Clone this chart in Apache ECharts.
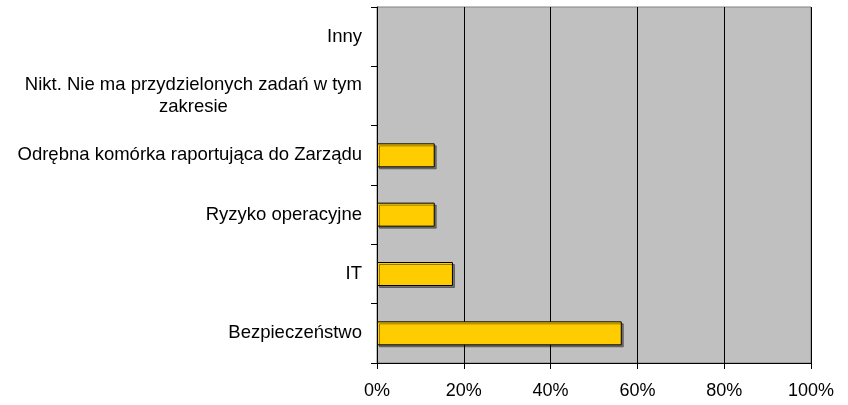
<!DOCTYPE html>
<html>
<head>
<meta charset="utf-8">
<script src="https://cdn.jsdelivr.net/npm/echarts@6/dist/echarts.min.js"></script>
<style>
html,body{margin:0;padding:0;background:#fff;}
#chart{width:848px;height:405px;}
</style>
</head>
<body>
<div id="chart"></div>
<script>
// kategorie od dołu do góry
var categories = ['Bezpieczeństwo', 'IT', 'Ryzyko operacyjne', 'Odrębna komórka raportująca do Zarządu',
  'Nikt. Nie ma przydzielonych zadań w tym\nzakresie', 'Inny'];
var values = [56.4, 17.5, 13.3, 13.3, 0, 0];
var xTicks = [0, 20, 40, 60, 80, 100];

var chart = echarts.init(document.getElementById('chart'));
chart.setOption({
  animation: false,
  textStyle: { fontFamily: 'Liberation Sans, Arial, sans-serif' },
  grid: {
    left: 377, right: 37, top: 7, bottom: 42,
    show: true, backgroundColor: '#C0C0C0', borderColor: '#808080', borderWidth: 1
  },
  xAxis: {
    type: 'value',
    min: xTicks[0], max: xTicks[xTicks.length - 1], interval: 20,
    axisLine: { show: true, lineStyle: { color: '#000', width: 1 } },
    axisTick: { show: true, length: 6, lineStyle: { color: '#000' } },
    splitLine: { show: true, lineStyle: { color: '#000', width: 1 } },
    axisLabel: { formatter: '{value}%', color: '#000', fontSize: 18, margin: 19 }
  },
  yAxis: {
    type: 'category',
    data: categories,
    axisLine: { show: true, lineStyle: { color: '#000', width: 1 } },
    axisTick: { show: true, length: 6, lineStyle: { color: '#000' } },
    axisLabel: {
      color: '#000', fontSize: 18.5, margin: 15, lineHeight: 22,
      formatter: function (v) {
        if (v.indexOf('\n') >= 0) {
          return v.split('\n').map(function (s) { return '{c|' + s + '}'; }).join('\n');
        }
        return v;
      },
      rich: { c: { align: 'center', fontSize: 18.5, color: '#000', lineHeight: 22 } }
    }
  },
  series: [{
    type: 'bar',
    // zera nie są rysowane
    data: values.map(function (v) { return v === 0 ? '-' : v; }),
    barWidth: 24,
    itemStyle: {
      color: '#FFCC00', borderColor: '#000', borderWidth: 1,
      shadowColor: 'rgba(0,0,0,0.4)', shadowOffsetX: 2, shadowOffsetY: 2, shadowBlur: 0
    }
  }]
});
</script>
</body>
</html>
